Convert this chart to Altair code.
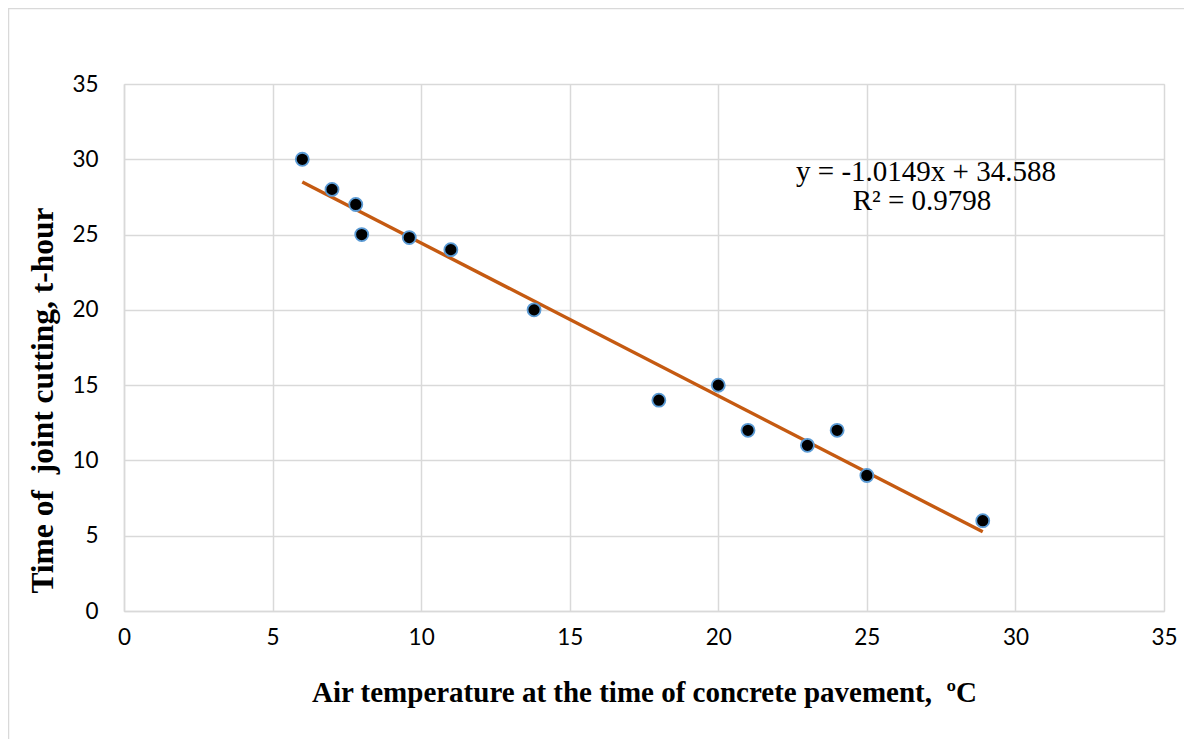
import altair as alt
import pandas as pd

# Data
temperature = [6.0, 7.0, 7.8, 8.0, 9.6, 11.0, 13.8, 18.0, 20.0, 21.0, 23.0, 24.0, 25.0, 28.9]
cut_time = [30.0, 28.0, 27.0, 25.0, 24.8, 24.0, 20.0, 14.0, 15.0, 12.0, 11.0, 12.0, 9.0, 6.0]
tick_values = [0, 5, 10, 15, 20, 25, 30, 35]
equation_lines = ["y = -1.0149x + 34.588", "R\u00b2 = 0.9798"]

df = pd.DataFrame({"temp": temperature, "time": cut_time})

GRID = "#D9D9D9"
W, H = 1040, 527

x_enc = alt.X(
    "temp:Q",
    scale=alt.Scale(domain=[0, 35], nice=False, zero=True),
    axis=alt.Axis(
        values=tick_values,
        title="Air temperature at the time of concrete pavement,\u00a0 \u00baC",
        titleFont="Liberation Serif",
        titleFontSize=29,
        titleFontWeight="bold",
        titleColor="black",
        titleBaseline="middle",
        titleY=81,
        labelFont="Lato",
        labelFontSize=22.5,
        labelColor="black",
        labelPadding=26,
        labelBaseline="middle",
        labelFlush=False,
        ticks=False,
        domainColor=GRID,
        domainWidth=1.5,
        gridColor=GRID,
        gridWidth=1.5,
    ),
)
y_enc = alt.Y(
    "time:Q",
    scale=alt.Scale(domain=[0, 35], nice=False, zero=True),
    axis=alt.Axis(
        values=tick_values,
        title="Time of\u00a0 joint cutting, t-hour",
        titleFont="Liberation Serif",
        titleFontSize=31.5,
        titleFontWeight="bold",
        titleColor="black",
        titleAngle=-90,
        titleAlign="center",
        titleBaseline="middle",
        titleX=-81,
        titleY=316,
        labelFont="Lato",
        labelFontSize=22.5,
        labelColor="black",
        labelPadding=26,
        labelFlush=False,
        ticks=False,
        domainColor=GRID,
        domainWidth=1.5,
        gridColor=GRID,
        gridWidth=1.5,
    ),
)

base = alt.Chart(df)

trend = base.transform_regression("temp", "time", extent=[6.0, 28.9]).mark_line(
    color="#C55A11", strokeWidth=3.4
).encode(x=x_enc, y=y_enc)

points = base.mark_point(
    filled=False, fill="black", fillOpacity=1, stroke="#5B9BD5", strokeWidth=1.8, size=170, shape="circle"
).encode(x=x_enc, y=y_enc)

eq1 = alt.Chart(pd.DataFrame({"line": [equation_lines[0]]})).mark_text(
    font="Liberation Serif", fontSize=29, color="black", align="center", baseline="middle"
).encode(text="line:N", x=alt.value(802), y=alt.value(88))

eq2 = alt.Chart(pd.DataFrame({"line": [equation_lines[1]]})).mark_text(
    font="Liberation Serif", fontSize=29, color="black", align="center", baseline="middle"
).encode(text="line:N", x=alt.value(798), y=alt.value(117))

frame = alt.Chart(pd.DataFrame({"a": [0]})).mark_rect(fill=None, stroke=GRID, strokeWidth=1.5).encode(
    x=alt.value(-115.5), x2=alt.value(1300), y=alt.value(-75.5), y2=alt.value(900)
)

chart = (
    alt.layer(trend, points, eq1, eq2, frame)
    .properties(
        width=W,
        height=H,
        autosize=alt.AutoSizeParams(type="none"),
        padding={"left": 116, "top": 76, "right": 20, "bottom": 128},
    )
    .configure_view(stroke=None)
    .configure(background="white")
)

chart.save("out.html", embed_options={"renderer": "svg", "actions": False})
